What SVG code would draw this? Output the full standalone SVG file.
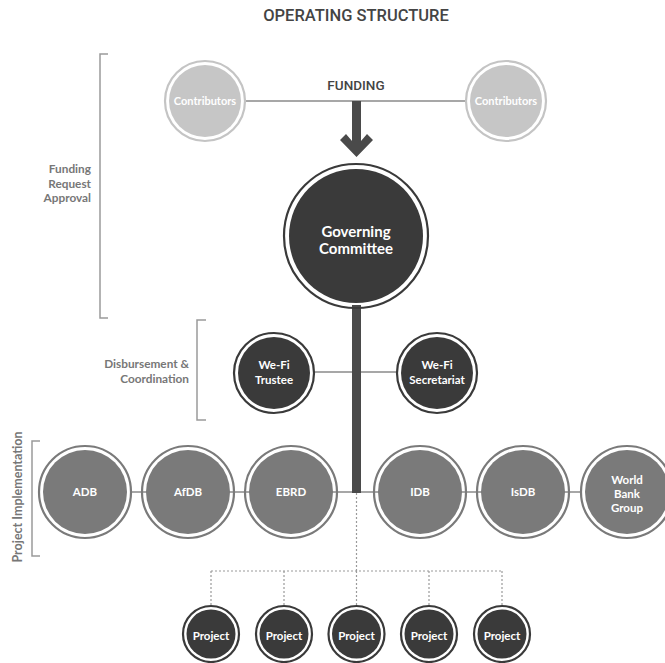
<svg xmlns="http://www.w3.org/2000/svg" width="665" height="663" viewBox="0 0 665 663">
<style>
.t{font-family:Lato,"Open Sans","Liberation Sans",sans-serif;font-weight:700;text-anchor:middle;fill:#fff}
.lbl{font-family:Lato,"Open Sans","Liberation Sans",sans-serif;font-weight:700;fill:#777;font-size:11.8px;text-anchor:end}
.vl{font-family:Lato,"Open Sans","Liberation Sans",sans-serif;font-weight:700;fill:#777;font-size:12.5px;text-anchor:middle}
.ring{fill:none;stroke-width:2.2}
.br{fill:none;stroke:#9a9a9a;stroke-width:1.5}
.ln{stroke:#8a8a8a;stroke-width:1.5;fill:none}
.dot{stroke:#9a9a9a;stroke-width:1.2;stroke-dasharray:2 2;fill:none}
.contrib .ring{stroke:#c4c4c4}
.contrib .fill{fill:#c6c6c6}
.dark .ring{stroke:#3a3a3a}
.dark .fill{fill:#3a3a3a}
.bank .ring{stroke:#7a7a7a}
.bank .fill{fill:#7a7a7a}
</style>
<rect width="665" height="663" fill="#fff"/>
<text x="356" y="21" font-family="Roboto,'Liberation Sans',sans-serif" font-weight="500" font-size="16.5" fill="#444" text-anchor="middle">OPERATING STRUCTURE</text>

<g id="brackets">
<path class="br" d="M108 54 H100 V318 H108"/>
<path class="br" d="M206 320 H197 V420 H206"/>
<path class="br" d="M40 441 H32 V556 H40"/>
<text class="lbl" x="91" y="173">Funding</text>
<text class="lbl" x="91" y="188">Request</text>
<text class="lbl" x="91" y="202">Approval</text>
<text class="lbl" x="189" y="368">Disbursement &amp;</text>
<text class="lbl" x="189" y="383">Coordination</text>
<text class="vl" x="0" y="0" transform="translate(22 497) rotate(-90)">Project Implementation</text>
</g>

<g id="connectors">
<line class="ln" x1="246" y1="101" x2="466" y2="101"/>
<text x="356" y="90" font-family="Roboto,'Liberation Sans',sans-serif" font-weight="500" font-size="13.5" fill="#444" text-anchor="middle">FUNDING</text>
<polygon fill="#4a4a4a" points="352,101 361,101 361,141 367,134 373,140 356.5,157 340,140 346,134 352,141"/>
<line class="ln" x1="314" y1="372" x2="398" y2="372"/>
<line class="ln" x1="130" y1="492" x2="582" y2="492"/>
<rect x="352" y="305" width="9" height="188" fill="#4a4a4a"/>
<path class="dot" d="M356.5 493 V571 M211 571 H502 M211 571 V605 M284 571 V605 M356.5 571 V605 M429 571 V605 M502 571 V605"/>
</g>

<g id="contrib-left" class="contrib"><circle class="ring" cx="205" cy="101" r="40"/><circle class="fill" cx="205" cy="101" r="36"/><text class="t" x="205" y="105" font-size="11">Contributors</text></g>
<g id="contrib-right" class="contrib"><circle class="ring" cx="506" cy="101" r="40"/><circle class="fill" cx="506" cy="101" r="36"/><text class="t" x="506" y="105" font-size="11">Contributors</text></g>

<g id="governing" class="dark"><circle class="ring" cx="356" cy="236" r="72" stroke-width="3"/><circle class="fill" cx="356" cy="236" r="67"/><text class="t" x="356" y="237" font-size="15">Governing</text><text class="t" x="356" y="254" font-size="15">Committee</text></g>

<g id="trustee" class="dark"><circle class="ring" cx="274" cy="373" r="40"/><circle class="fill" cx="274" cy="373" r="36"/><text class="t" x="274" y="369" font-size="11.5">We-Fi</text><text class="t" x="274" y="384" font-size="11.5">Trustee</text></g>
<g id="secretariat" class="dark"><circle class="ring" cx="437" cy="373" r="40"/><circle class="fill" cx="437" cy="373" r="36"/><text class="t" x="437" y="369" font-size="11.5">We-Fi</text><text class="t" x="437" y="384" font-size="11.5">Secretariat</text></g>

<g id="adb" class="bank"><circle class="ring" cx="85" cy="492" r="46"/><circle class="fill" cx="85" cy="492" r="42"/><text class="t" x="85" y="496" font-size="11.5">ADB</text></g>
<g id="afdb" class="bank"><circle class="ring" cx="188" cy="492" r="46"/><circle class="fill" cx="188" cy="492" r="42"/><text class="t" x="188" y="496" font-size="11.5">AfDB</text></g>
<g id="ebrd" class="bank"><circle class="ring" cx="291" cy="492" r="46"/><circle class="fill" cx="291" cy="492" r="42"/><text class="t" x="291" y="496" font-size="11.5">EBRD</text></g>
<g id="idb" class="bank"><circle class="ring" cx="420" cy="492" r="46"/><circle class="fill" cx="420" cy="492" r="42"/><text class="t" x="420" y="496" font-size="11.5">IDB</text></g>
<g id="isdb" class="bank"><circle class="ring" cx="523" cy="492" r="46"/><circle class="fill" cx="523" cy="492" r="42"/><text class="t" x="523" y="496" font-size="11.5">IsDB</text></g>
<g id="wbg" class="bank"><circle class="ring" cx="627" cy="492" r="46"/><circle class="fill" cx="627" cy="492" r="42"/><text class="t" x="627" y="484" font-size="11.5">World</text><text class="t" x="627" y="498" font-size="11.5">Bank</text><text class="t" x="627" y="512" font-size="11.5">Group</text></g>

<g id="project1" class="dark"><circle class="ring" cx="211" cy="634" r="28"/><circle class="fill" cx="211" cy="634" r="24.5"/><text class="t" x="211" y="640" font-size="11.5">Project</text></g>
<g id="project2" class="dark"><circle class="ring" cx="284" cy="634" r="28"/><circle class="fill" cx="284" cy="634" r="24.5"/><text class="t" x="284" y="640" font-size="11.5">Project</text></g>
<g id="project3" class="dark"><circle class="ring" cx="356.5" cy="634" r="28"/><circle class="fill" cx="356.5" cy="634" r="24.5"/><text class="t" x="356.5" y="640" font-size="11.5">Project</text></g>
<g id="project4" class="dark"><circle class="ring" cx="429" cy="634" r="28"/><circle class="fill" cx="429" cy="634" r="24.5"/><text class="t" x="429" y="640" font-size="11.5">Project</text></g>
<g id="project5" class="dark"><circle class="ring" cx="502" cy="634" r="28"/><circle class="fill" cx="502" cy="634" r="24.5"/><text class="t" x="502" y="640" font-size="11.5">Project</text></g>
</svg>
